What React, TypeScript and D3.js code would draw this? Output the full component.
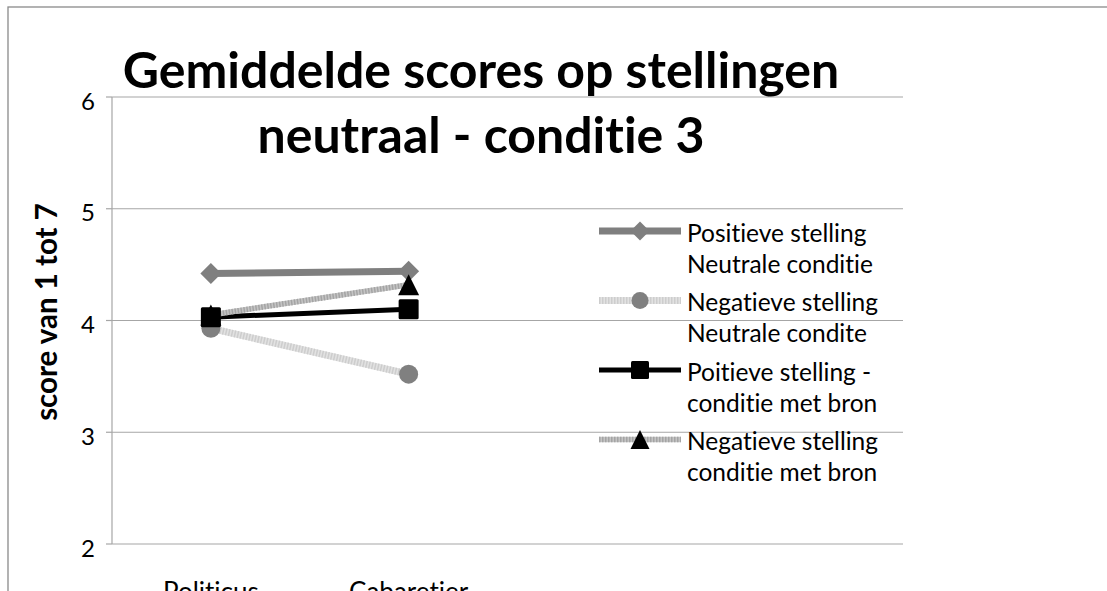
import React from "react";
import * as d3 from "d3";

const categories = ["Politicus", "Cabaretier", "", ""];
const yTicks = [2, 3, 4, 5, 6];

const seriesNames = [
  ["Positieve stelling", "Neutrale conditie"],
  ["Negatieve stelling", "Neutrale condite"],
  ["Poitieve stelling -", "conditie met bron"],
  ["Negatieve stelling", "conditie met bron"],
];
const posNeutraal = [4.42, 4.44];
const negNeutraal = [3.93, 3.52];
const posBron = [4.03, 4.1];
const negBron = [4.05, 4.32];

const titleLines = ["Gemiddelde scores op stellingen", "neutraal - conditie 3"];
const yAxisTitle = "score van 1 tot 7";

const FONT = "Lato, 'Open Sans', sans-serif";

type Style = {
  base: string;
  width: number;
  dash?: string;
  dashColor?: string;
  marker: "diamond" | "circle" | "square" | "triangle";
  markerFill: string;
  markerSize: number;
};

const styles: Style[] = [
  { base: "#7f7f7f", width: 7, marker: "diamond", markerFill: "#7f7f7f", markerSize: 21 },
  { base: "#e2e2e2", width: 7, dash: "1.5 1.5", dashColor: "#cdcdcd", marker: "circle", markerFill: "#808080", markerSize: 19 },
  { base: "#000000", width: 5, marker: "square", markerFill: "#000000", markerSize: 20 },
  { base: "#c4c4c4", width: 5.5, dash: "1.5 1.5", dashColor: "#a4a4a4", marker: "triangle", markerFill: "#000000", markerSize: 21 },
];

function Marker({ kind, x, y, size, fill }: { kind: string; x: number; y: number; size: number; fill: string }) {
  const h = size / 2;
  if (kind === "diamond") {
    return <path d={`M${x},${y - h} L${x + h},${y} L${x},${y + h} L${x - h},${y} Z`} fill={fill} />;
  }
  if (kind === "circle") {
    return <circle cx={x} cy={y} r={h} fill={fill} />;
  }
  if (kind === "square") {
    return <rect x={x - h} y={y - h} width={size} height={size} rx={1.5} fill={fill} />;
  }
  return <path d={`M${x},${y - h} L${x + h},${y + h} L${x - h},${y + h} Z`} fill={fill} />;
}

export default function App() {
  const W = 1107;
  const H = 591;
  const left = 112;
  const right = 903;
  const top = 97;
  const bottom = 544;

  const x = d3.scaleBand<number>().domain(d3.range(categories.length)).range([left, right]);
  const y = d3.scaleLinear().domain([2, 6]).range([bottom, top]);
  const cx = (i: number) => (x(i) as number) + x.bandwidth() / 2;

  const data = [posNeutraal, negNeutraal, posBron, negBron];
  const line = d3
    .line<number>()
    .x((_, i) => cx(i))
    .y((d) => y(d));

  const markerOrder = [0, 1, 3, 2];

  const legendX0 = 599;
  const legendX1 = 681;
  const legendTextX = 687;
  const legendY0 = 231;
  const legendStep = 69.5;
  const legendLine = 31;

  return (
    <svg
      width={W}
      height={H}
      style={{ position: "fixed", left: 0, top: 0, background: "#fff", fontVariantLigatures: "none" }}
      fontFamily={FONT}
    >
      <rect x={0} y={0} width={W} height={H} fill="#fff" />
      <rect x={8} y={7} width={W + 20} height={H + 20} fill="none" stroke="#8a8a8a" strokeWidth={1.3} />

      {/* gridlines */}
      {yTicks.map((t) => (
        <line key={t} x1={left} x2={right} y1={y(t)} y2={y(t)} stroke="#a6a6a6" strokeWidth={1.2} />
      ))}
      {/* y axis */}
      <line x1={left} x2={left} y1={top} y2={bottom} stroke="#a6a6a6" strokeWidth={1.2} />
      {yTicks.map((t) => (
        <line key={"tk" + t} x1={left - 6} x2={left} y1={y(t)} y2={y(t)} stroke="#a6a6a6" strokeWidth={1.2} />
      ))}
      {yTicks.map((t) => (
        <text key={"tl" + t} x={88} y={y(t) + 3} fontSize={24} textAnchor="middle" dominantBaseline="central" fill="#000">
          {t}
        </text>
      ))}

      {/* category labels (cut off by the bottom edge, as in the reference) */}
      {categories.map((c, i) => (
        <text key={"c" + i} x={cx(i)} y={601} fontSize={26} textAnchor="middle" fill="#000">
          {c}
        </text>
      ))}

      {/* y axis title */}
      <text
        transform={`translate(57,${312}) rotate(-90)`}
        fontSize={29.5}
        fontWeight="bold"
        textAnchor="middle"
        fill="#000"
      >
        {yAxisTitle}
      </text>

      {/* series lines */}
      {data.map((vals, s) => {
        const st = styles[s];
        const d = line(vals) || "";
        return (
          <g key={"s" + s}>
            <path d={d} fill="none" stroke={st.base} strokeWidth={st.width} />
            {st.dash && (
              <path d={d} fill="none" stroke={st.dashColor} strokeWidth={st.width} strokeDasharray={st.dash} />
            )}
          </g>
        );
      })}
      {markerOrder.map((s) =>
        data[s].map((v, i) => (
          <Marker
            key={`m${s}-${i}`}
            kind={styles[s].marker}
            x={cx(i)}
            y={y(v)}
            size={styles[s].markerSize}
            fill={styles[s].markerFill}
          />
        ))
      )}

      {/* title */}
      {titleLines.map((t, i) => (
        <text key={"t" + i} x={481} y={88 + i * 65} fontSize={50} fontWeight="bold" textAnchor="middle" fill="#000">
          {t}
        </text>
      ))}

      {/* legend */}
      {seriesNames.map((names, s) => {
        const st = styles[s];
        const ly = legendY0 + s * legendStep;
        return (
          <g key={"l" + s}>
            <line x1={legendX0} x2={legendX1} y1={ly} y2={ly} stroke={st.base} strokeWidth={st.width} />
            {st.dash && (
              <line
                x1={legendX0}
                x2={legendX1}
                y1={ly}
                y2={ly}
                stroke={st.dashColor}
                strokeWidth={st.width}
                strokeDasharray={st.dash}
              />
            )}
            <Marker kind={st.marker} x={(legendX0 + legendX1) / 2} y={ly} size={st.markerSize - 2} fill={st.markerFill} />
            {names.map((n, k) => (
              <text
                key={k}
                x={legendTextX}
                y={ly + 1 + k * legendLine}
                fontSize={24.5}
                dominantBaseline="central"
                fill="#000"
              >
                {n}
              </text>
            ))}
          </g>
        );
      })}
    </svg>
  );
}
